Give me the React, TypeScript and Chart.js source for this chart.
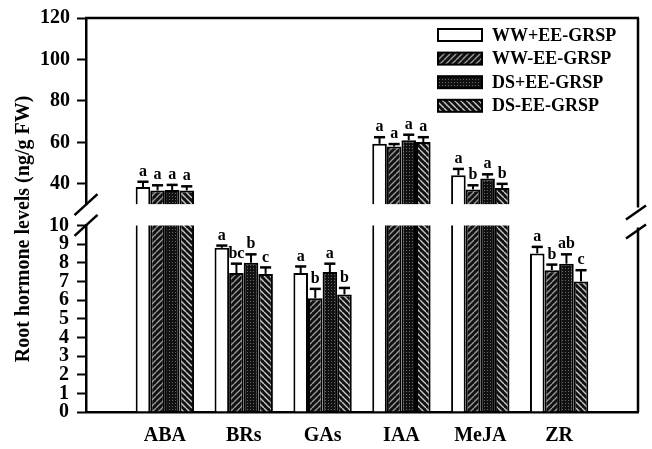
import React, { useEffect, useRef } from 'react';
import { Chart, registerables } from 'chart.js';

Chart.register(...registerables);

// ---------------- data ----------------
const categories = ['ABA', 'BRs', 'GAs', 'IAA', 'MeJA', 'ZR'];
const seriesNames = ['WW+EE-GRSP', 'WW-EE-GRSP', 'DS+EE-GRSP', 'DS-EE-GRSP'];

const wwPlus = [38.5, 8.8, 7.45, 59.3, 44.2, 8.5];
const wwPlusErr = [2.5, 0.12, 0.35, 3.2, 3.0, 0.35];
const wwPlusSig = ['a', 'a', 'a', 'a', 'a', 'a'];

const wwMinus = [36.8, 7.45, 6.1, 58.0, 37.3, 7.6];
const wwMinusErr = [2.5, 0.5, 0.5, 1.2, 2.0, 0.3];
const wwMinusSig = ['a', 'bc', 'b', 'a', 'b', 'b'];

const dsPlus = [37.0, 8.0, 7.5, 61.0, 42.6, 7.95];
const dsPlusErr = [2.5, 0.45, 0.45, 2.7, 2.0, 0.5];
const dsPlusSig = ['a', 'b', 'a', 'a', 'a', 'ab'];

const dsMinus = [36.8, 7.4, 6.3, 60.2, 38.0, 7.0];
const dsMinusErr = [2.0, 0.35, 0.35, 2.3, 2.0, 0.6];
const dsMinusSig = ['a', 'c', 'b', 'a', 'b', 'c'];

const topTicks = [40, 60, 80, 100, 120];
const bottomTicks = [0, 1, 2, 3, 4, 5, 6, 7, 8, 9, 10];
const topMin = 30;
const topMax = 120;
const bottomMin = 0;
const bottomMax = 10;
const yTitle = 'Root hormone levels (ng/g FW)';

const values = [wwPlus, wwMinus, dsPlus, dsMinus];
const errors = [wwPlusErr, wwMinusErr, dsPlusErr, dsMinusErr];
const sigs = [wwPlusSig, wwMinusSig, dsPlusSig, dsMinusSig];

const SERIF = "'Liberation Serif', 'Times New Roman', serif";

function makePattern(kind: string): CanvasPattern | string {
  const c = document.createElement('canvas');
  const size = kind === 'dots' ? 3 : 6;
  c.width = size;
  c.height = size;
  const g = c.getContext('2d');
  if (!g) return '#111';
  g.fillStyle = '#111';
  g.fillRect(0, 0, size, size);
  if (kind === 'dots') {
    g.fillStyle = '#6a6a6a';
    g.fillRect(1, 1, 1, 1);
  } else {
    g.strokeStyle = kind === 'fwd' ? '#9a9a9a' : '#c8c8c8';
    g.lineWidth = 1.4;
    g.beginPath();
    for (let k = -1; k <= 1; k++) {
      if (kind === 'fwd') {
        g.moveTo(k * size, size);
        g.lineTo(k * size + size, 0);
      } else {
        g.moveTo(k * size, 0);
        g.lineTo(k * size + size, size);
      }
    }
    g.stroke();
  }
  const p = g.createPattern(c, 'repeat');
  return p || '#111';
}

export default function App() {
  const ref = useRef<HTMLCanvasElement | null>(null);

  useEffect(() => {
    document.body.style.margin = '0';
    const canvas = ref.current;
    if (!canvas) return;

    const fills: (CanvasPattern | string)[] = [
      '#ffffff',
      makePattern('fwd'),
      makePattern('dots'),
      makePattern('back'),
    ];

    const datasets: any[] = [];
    for (let s = 0; s < 4; s++) {
      datasets.push({
        label: seriesNames[s],
        data: values[s].map((v, i) => ({ x: i + 1, y: v > bottomMax ? v : null })),
        yAxisID: 'yTop',
        stack: 'g' + s,
        base: topMin,
        backgroundColor: fills[s],
        borderColor: '#000',
        borderWidth: 2,
        clip: 0,
      });
    }
    for (let s = 0; s < 4; s++) {
      datasets.push({
        label: seriesNames[s] + ' ',
        data: values[s].map((v, i) => ({ x: i + 1, y: v })),
        yAxisID: 'yBot',
        stack: 'g' + s,
        backgroundColor: fills[s],
        borderColor: '#000',
        borderWidth: 2,
        clip: 0,
      });
    }

    const decor = {
      id: 'decor',
      afterDatasetsDraw(chart: any) {
        const ctx = chart.ctx;
        const yTop = chart.scales.yTop;
        const yBot = chart.scales.yBot;
        ctx.save();
        ctx.strokeStyle = '#000';
        ctx.fillStyle = '#000';
        ctx.font = `bold 16px ${SERIF}`;
        ctx.textAlign = 'center';
        ctx.textBaseline = 'bottom';
        for (let d = 0; d < 8; d++) {
          const isTop = d < 4;
          const s = d % 4;
          const scale = isTop ? yTop : yBot;
          const meta = chart.getDatasetMeta(d);
          meta.data.forEach((el: any, i: number) => {
            const v = values[s][i];
            if (isTop ? v <= bottomMax : v > bottomMax) return;
            const e = errors[s][i];
            const x = el.x;
            const w = el.width;
            const y0 = scale.getPixelForValue(v);
            const y1 = scale.getPixelForValue(v + e);
            ctx.lineWidth = 2;
            ctx.beginPath();
            ctx.moveTo(x, y0);
            ctx.lineTo(x, y1);
            ctx.stroke();
            ctx.lineWidth = 2.5;
            ctx.beginPath();
            ctx.moveTo(x - w * 0.38, y1);
            ctx.lineTo(x + w * 0.38, y1);
            ctx.stroke();
            ctx.fillText(sigs[s][i], x, y1 - 2);
          });
        }
        ctx.restore();
      },
      afterDraw(chart: any) {
        const ctx = chart.ctx;
        const area = chart.chartArea;
        const yTop = chart.scales.yTop;
        const yBot = chart.scales.yBot;
        ctx.save();
        ctx.strokeStyle = '#000';
        ctx.fillStyle = '#000';
        ctx.lineWidth = 2.5;
        // top border
        ctx.beginPath();
        ctx.moveTo(area.left - 1, area.top);
        ctx.lineTo(area.right + 1, area.top);
        ctx.stroke();
        // right border with break
        const rGapTop = yTop.bottom + 3;
        const rGapBot = yBot.top + 2;
        ctx.beginPath();
        ctx.moveTo(area.right, area.top);
        ctx.lineTo(area.right, rGapTop);
        ctx.moveTo(area.right, rGapBot);
        ctx.lineTo(area.right, area.bottom);
        ctx.stroke();
        // break marks
        const slash = (cx: number, cy: number, dx: number, dy: number) => {
          ctx.beginPath();
          ctx.moveTo(cx - dx, cy + dy);
          ctx.lineTo(cx + dx, cy - dy);
          ctx.stroke();
        };
        slash(area.left, yTop.bottom, 11.5, 10.5);
        slash(area.left, yBot.top, 11.5, 10.5);
        slash(area.right - 2, rGapTop + 5, 10, 7);
        slash(area.right - 2, rGapBot + 4, 10, 7);

        // y title
        ctx.save();
        ctx.translate(24, 229);
        ctx.rotate(-Math.PI / 2);
        ctx.font = `bold 20px ${SERIF}`;
        ctx.textAlign = 'center';
        ctx.textBaseline = 'middle';
        ctx.fillText(yTitle, 0, 0);
        ctx.restore();

        // legend
        ctx.font = `bold 18px ${SERIF}`;
        ctx.textAlign = 'left';
        ctx.textBaseline = 'middle';
        const lx = 438;
        const lyStart = 35;
        const lStep = 23.6;
        for (let s = 0; s < 4; s++) {
          const cy = lyStart + s * lStep;
          ctx.fillStyle = fills[s] as any;
          ctx.fillRect(lx, cy - 6, 44, 12);
          ctx.lineWidth = 2;
          ctx.strokeStyle = '#000';
          ctx.strokeRect(lx, cy - 6, 44, 12);
          ctx.fillStyle = '#000';
          ctx.fillText(seriesNames[s], lx + 54, cy + 1);
        }
        ctx.restore();
      },
    };

    const tickFont = { family: SERIF, size: 20, weight: 'bold' as const, lineHeight: 1 };

    const chart = new Chart(canvas, {
      type: 'bar',
      data: { datasets },
      options: {
        responsive: false,
        devicePixelRatio: 1,
        animation: false,
        events: [],
        categoryPercentage: 0.74,
        barPercentage: 1.0,
        layout: { padding: { top: 15, right: 14, bottom: 0, left: 0 } },
        plugins: { legend: { display: false }, tooltip: { enabled: false }, title: { display: false } },
        scales: {
          x: {
            type: 'linear',
            position: 'bottom',
            min: 0,
            max: categories.length + 1,
            offset: false,
            z: 1,
            grid: { display: false, drawTicks: false },
            border: { display: true, color: '#000', width: 2.5 },
            afterBuildTicks: (s: any) => {
              s.ticks = categories.map((_, i) => ({ value: i + 1 }));
            },
            ticks: {
              autoSkip: false,
              maxRotation: 0,
              padding: 14,
              color: '#000',
              font: tickFont,
              callback: (v: any) => categories[Number(v) - 1] ?? '',
            },
            afterFit: (s: any) => {
              s.height = 37;
            },
          },
          yBot: {
            type: 'linear',
            position: 'left',
            stack: 'y',
            stackWeight: 188,
            stacked: false,
            min: bottomMin,
            max: bottomMax,
            grid: { drawOnChartArea: false, drawTicks: true, tickLength: 9, tickWidth: 2, tickColor: '#000' },
            border: { display: true, color: '#000', width: 2.5 },
            afterBuildTicks: (s: any) => {
              s.ticks = bottomTicks.map((v) => ({ value: v }));
            },
            ticks: { autoSkip: false, padding: 8, color: '#000', font: tickFont },
            afterFit: (s: any) => {
              s.width = 86;
            },
          },
          yGap: {
            type: 'linear',
            position: 'left',
            stack: 'y',
            stackWeight: 21,
            display: true,
            grid: { display: false, drawTicks: false },
            border: { display: false },
            ticks: { display: false },
            afterFit: (s: any) => {
              s.width = 86;
            },
          },
          yTop: {
            type: 'linear',
            position: 'left',
            stack: 'y',
            stackWeight: 188,
            stacked: false,
            min: topMin,
            max: topMax,
            grid: { drawOnChartArea: false, drawTicks: true, tickLength: 9, tickWidth: 2, tickColor: '#000' },
            border: { display: true, color: '#000', width: 2.5 },
            afterBuildTicks: (s: any) => {
              s.ticks = topTicks.map((v) => ({ value: v }));
            },
            ticks: { autoSkip: false, padding: 7, color: '#000', font: tickFont },
            afterFit: (s: any) => {
              s.width = 86;
            },
          },
        } as any,
      } as any,
      plugins: [decor],
    });

    return () => chart.destroy();
  }, []);

  return (
    <div style={{ position: 'absolute', left: 0, top: 0, width: 652, height: 449, background: '#fff' }}>
      <canvas ref={ref} width={652} height={449} style={{ width: 652, height: 449, display: 'block' }} />
    </div>
  );
}
